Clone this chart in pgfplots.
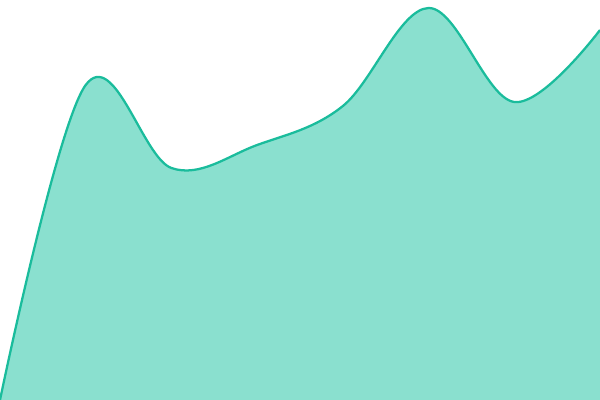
\documentclass[border=0pt]{standalone}
\usepackage{pgfplots}
\pgfplotsset{compat=1.18}
\definecolor{fillc}{HTML}{8AE0CF}
\definecolor{linec}{HTML}{1ABC9C}
\begin{document}
\begin{tikzpicture}
\begin{axis}[hide axis, scale only axis, width=450bp, height=300bp,
  xmin=0, xmax=600, ymin=0, ymax=400, clip=true, anchor=south west, at={(0,0)}]
\addplot[fill=fillc, draw=none, smooth, tension=0.6] coordinates {
(0,0) (85.7,315) (171.4,232) (257.1,255) (342.9,294) (428.6,392) (514.3,298) (600,370)
} \closedcycle;
\addplot[draw=linec, line width=1.7bp, smooth, tension=0.6] coordinates {
(0,0) (85.7,315) (171.4,232) (257.1,255) (342.9,294) (428.6,392) (514.3,298) (600,370)
};
\end{axis}
\path[use as bounding box] (0,0) rectangle (450bp,300bp);
\end{tikzpicture}
\end{document}
